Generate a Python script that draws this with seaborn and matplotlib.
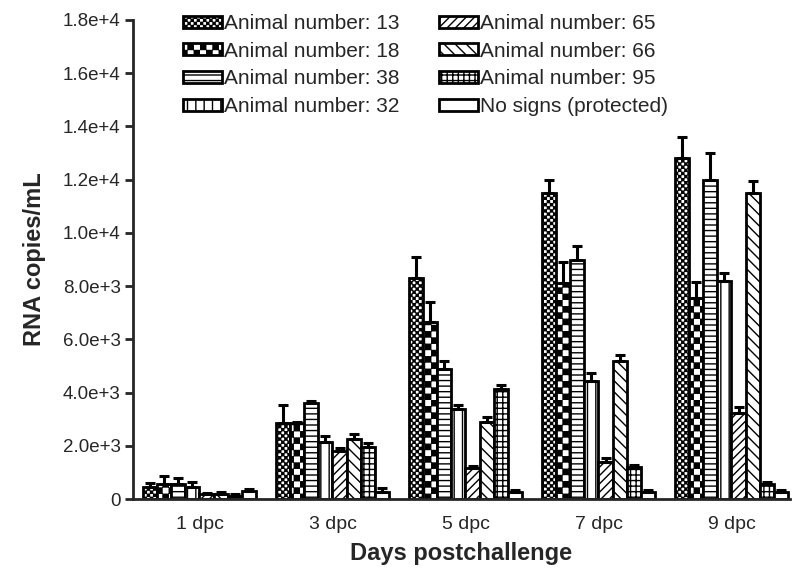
import numpy as np
import pandas as pd
import matplotlib
matplotlib.use("Agg")
import matplotlib.pyplot as plt
import matplotlib.hatch as mhatch
from matplotlib.path import Path
import seaborn as sns

# ---------------- data ----------------
days = ["1 dpc", "3 dpc", "5 dpc", "7 dpc", "9 dpc"]
animals = ["Animal number: 13", "Animal number: 18", "Animal number: 38",
           "Animal number: 32", "Animal number: 65", "Animal number: 66",
           "Animal number: 95", "No signs (protected)"]

mean_13 = [450, 2850, 8300, 11500, 12800]
mean_18 = [550, 2850, 6650, 8100, 7550]
mean_38 = [550, 3600, 4900, 9000, 12000]
mean_32 = [450, 2150, 3400, 4450, 8200]
mean_65 = [170, 1800, 1150, 1400, 3250]
mean_66 = [200, 2250, 2900, 5200, 11500]
mean_95 = [120, 1950, 4150, 1200, 550]
mean_ns = [300, 280, 280, 280, 280]

err_13 = [150, 700, 800, 500, 800]
err_18 = [300, 60, 750, 800, 600]
err_38 = [250, 100, 300, 500, 1000]
err_32 = [200, 200, 150, 300, 300]
err_65 = [60, 130, 100, 150, 200]
err_66 = [80, 200, 200, 200, 450]
err_95 = [50, 150, 150, 80, 100]
err_ns = [60, 150, 60, 60, 70]

yticks = [0, 2000, 4000, 6000, 8000, 10000, 12000, 14000, 16000, 18000]
ytick_labels = ["0", "2.0e+3", "4.0e+3", "6.0e+3", "8.0e+3", "1.0e+4",
                "1.2e+4", "1.4e+4", "1.6e+4", "1.8e+4"]

means = [mean_13, mean_18, mean_38, mean_32, mean_65, mean_66, mean_95, mean_ns]
errs = [err_13, err_18, err_38, err_32, err_65, err_66, err_95, err_ns]

# ---------------- checkerboard hatch ----------------
class Checker(mhatch.HatchPatternBase):
    def __init__(self, hatch, density):
        self.n = hatch.count('.') * 8
        if self.n:
            self.cells = [(i, j) for i in range(self.n) for j in range(self.n)
                          if (i + j) % 2 == 0]
        else:
            self.cells = []
        self.num_vertices = len(self.cells) * 5

    def set_vertices_and_codes(self, vertices, codes):
        s = 1.0 / self.n
        d = min(0.005, s * 0.25)
        k = 0
        for i, j in self.cells:
            x0, y0 = i * s + d, j * s + d
            w = s - 2 * d
            vertices[k:k + 5] = [[x0, y0], [x0 + w, y0], [x0 + w, y0 + w],
                                 [x0, y0 + w], [x0, y0]]
            codes[k:k + 5] = [Path.MOVETO, Path.LINETO, Path.LINETO,
                              Path.LINETO, Path.CLOSEPOLY]
            k += 5

mhatch._hatch_types = [Checker if t is mhatch.SmallFilledCircles else t
                       for t in mhatch._hatch_types]

hatches = ["....", "..", "---", "||", "////", "\\\\\\", "+++", ""]

# ---------------- frame ----------------
df = pd.DataFrame({
    "day": np.repeat([days], len(animals), axis=0).ravel(),
    "animal": np.repeat(animals, len(days)),
    "value": np.concatenate(means),
})

sns.set_style("ticks")
plt.rcParams["font.family"] = ["Liberation Sans", "DejaVu Sans"]
plt.rcParams["hatch.linewidth"] = 1.0

fig = plt.figure(figsize=(8, 5.74), dpi=100)
ax = fig.add_axes([133 / 800, 1 - 499 / 574, (790 - 133) / 800, (499 - 20) / 574])

sns.barplot(data=df, x="day", y="value", hue="animal", order=days,
            hue_order=animals, palette=["white"] * len(animals),
            edgecolor="black", linewidth=2, width=0.85, errorbar=None,
            saturation=1, legend=False, ax=ax)

bar_containers = list(ax.containers)
for cont, h, err in zip(bar_containers, hatches, errs):
    xs, ys = [], []
    for p in cont.patches:
        p.set_hatch(h)
        p.set_edgecolor("black")
        xs.append(p.get_x() + p.get_width() / 2)
        ys.append(p.get_height())
    ax.errorbar(xs, ys, yerr=[np.zeros(len(err)), err], fmt="none",
                ecolor="black", elinewidth=2.2, capsize=3.6, capthick=2.2,
                zorder=1)

ax.set_xlim(-0.5, 4.44)
ax.set_ylim(0, 18000)
ax.set_yticks(yticks)
ax.set_yticklabels(ytick_labels)
ax.tick_params(axis="y", length=6, width=2, labelsize=13.5, pad=3)
ax.tick_params(axis="x", length=0, labelsize=14, pad=12)
for s in ["left", "bottom"]:
    ax.spines[s].set_linewidth(2)
sns.despine(ax=ax)

ax.set_ylabel("RNA copies/mL", fontsize=17, fontweight="bold", labelpad=12)
ax.set_xlabel("Days postchallenge", fontsize=17, fontweight="bold", labelpad=7)

handles = [c.patches[0] for c in bar_containers]
ax.legend(handles, animals, loc="upper left", bbox_to_anchor=(183 / 800, 1 - 14 / 574),
          bbox_transform=fig.transFigure, ncol=2, frameon=False, fontsize=15,
          handlelength=1.85, handleheight=0.5, handletextpad=0.12,
          columnspacing=1.9, labelspacing=0.42, borderpad=0, borderaxespad=0)

fig.savefig("out.png", dpi=100)
